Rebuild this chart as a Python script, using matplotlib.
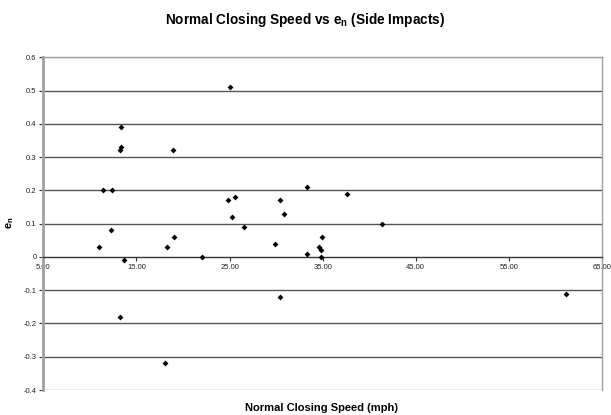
import matplotlib
matplotlib.use("Agg")
import matplotlib.pyplot as plt
import numpy as np

speed = [11.02, 11.44, 12.41, 12.27, 13.35, 13.35, 13.24, 13.64, 13.24,
         18.32, 19.04, 18.93, 18.12, 22.05, 25.05, 24.84, 25.59, 25.30,
         26.56, 29.92, 30.42, 30.89, 30.42, 33.29, 33.32, 34.65, 34.80,
         34.83, 34.90, 37.60, 41.35, 61.17]
en = [0.03, 0.20, 0.20, 0.08, 0.39, 0.33, 0.32, -0.01, -0.18,
      0.03, 0.06, 0.32, -0.32, 0.00, 0.51, 0.17, 0.18, 0.12,
      0.09, 0.04, 0.17, 0.13, -0.12, 0.21, 0.01, 0.03, 0.02,
      0.00, 0.06, 0.19, 0.10, -0.11]

x_ticks = [5, 15, 25, 35, 45, 55, 65]
x_labels = ["5.00", "15.00", "25.00", "35.00", "45.00", "55.00", "65.00"]
y_ticks = [-0.4, -0.3, -0.2, -0.1, 0, 0.1, 0.2, 0.3, 0.4, 0.5, 0.6]
y_labels = ["-0.4", "-0.3", "-0.2", "-0.1", "0", "0.1", "0.2", "0.3", "0.4", "0.5", "0.6"]

plt.rcParams['font.family'] = ['Liberation Sans', 'DejaVu Sans']
plt.rcParams['mathtext.fontset'] = 'custom'
plt.rcParams['mathtext.rm'] = 'Liberation Sans'
plt.rcParams['mathtext.bf'] = 'Liberation Sans:bold'

fig = plt.figure(figsize=(6.11, 4.15), dpi=100)
ax = fig.add_axes([0.0709, 0.0602, 0.9144, 0.8018])

ax.set_xlim(5, 65)
ax.set_ylim(-0.4, 0.6)

for yv in y_ticks:
    if yv not in (0, -0.4, 0.6):
        ax.axhline(yv, color='#555555', lw=1.0, zorder=1)
ax.axhline(-0.4, color='#a0a0a0', lw=1.0, zorder=1)
ax.axhline(0.6, color='#a0a0a0', lw=1.0, zorder=1)

ax.scatter(speed, en, marker='D', s=9, color='black', zorder=3, linewidths=0)

for s in ['top', 'right']:
    ax.spines[s].set_color('#a0a0a0')
    ax.spines[s].set_linewidth(1.0)
ax.spines['left'].set_color('#a0a0a0')
ax.spines['left'].set_linewidth(2.0)
ax.spines['bottom'].set_position(('data', 0))
ax.spines['bottom'].set_color('#333333')
ax.spines['bottom'].set_linewidth(1.0)

ax.set_xticks(x_ticks)
ax.set_xticklabels(x_labels)
ax.set_yticks(y_ticks)
ax.set_yticklabels(y_labels)
ax.tick_params(axis='x', direction='out', length=3, width=0.8, colors='#333333',
               labelsize=5.5, labelcolor='#222222', pad=2)
ax.tick_params(axis='y', direction='out', length=3, width=0.8, colors='#333333',
               labelsize=5.5, labelcolor='#222222', pad=2)

fig.text(0.5, 0.952, r'Normal Closing Speed vs $\mathbf{e_n}$ (Side Impacts)',
         ha='center', va='center', fontsize=9.8, fontweight='bold')
fig.text(0.527, 0.017, 'Normal Closing Speed (mph)', ha='center', va='center',
         fontsize=8, fontweight='bold')
fig.text(0.017, 0.463, r'$\mathbf{e_n}$', ha='center', va='center', rotation=90,
         fontsize=8)

fig.savefig('out.png', dpi=100)
